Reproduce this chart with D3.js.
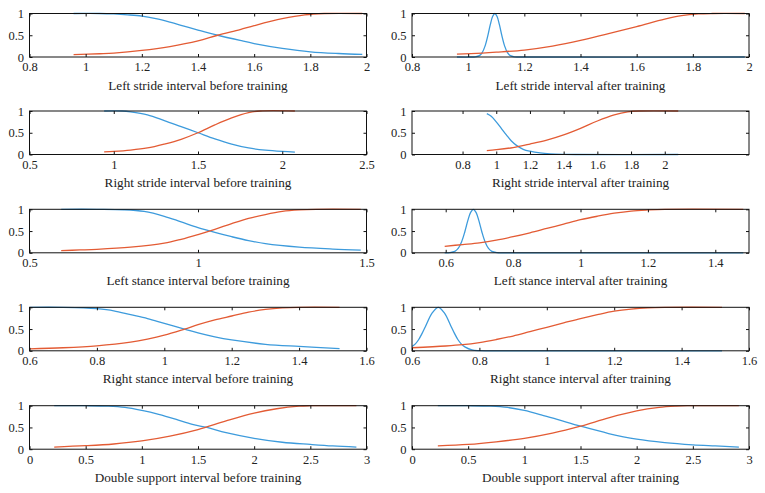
<!DOCTYPE html>
<html>
<head>
<meta charset="utf-8">
<script src="https://cdn.jsdelivr.net/npm/d3@7"></script>
<style>
  html, body { margin: 0; padding: 0; background: #fff; }
</style>
</head>
<body>
<svg id="chart" width="765" height="493"></svg>
<script>
// ---------- DATA ----------
const titles = [
  "Left stride interval before training", "Left stride interval after training",
  "Right stride interval before training", "Right stride interval after training",
  "Left stance interval before training", "Left stance interval after training",
  "Right stance interval before training", "Right stance interval after training",
  "Double support interval before training", "Double support interval after training"
];
const domains = [
  [0.8, 2], [0.8, 2],
  [0.5, 2.5], [0.5, 2.5],
  [0.5, 1.5], [0.5, 1.5],
  [0.6, 1.6], [0.6, 1.6],
  [0, 3], [0, 3]
];
const xTicks = [
  [0.8, 1, 1.2, 1.4, 1.6, 1.8, 2], [0.8, 1, 1.2, 1.4, 1.6, 1.8, 2],
  [0.5, 1, 1.5, 2, 2.5], [0.8, 1, 1.2, 1.4, 1.6, 1.8, 2],
  [0.5, 1, 1.5], [0.6, 0.8, 1, 1.2, 1.4],
  [0.6, 0.8, 1, 1.2, 1.4, 1.6], [0.6, 0.8, 1, 1.2, 1.4, 1.6],
  [0, 0.5, 1, 1.5, 2, 2.5, 3], [0, 0.5, 1, 1.5, 2, 2.5, 3]
];
const yTicks = [0, 0.5, 1];

// Left stride, before
const lsbBlue = [[0.957,1],[1.05,1],[1.1,0.99],[1.15,0.97],[1.2,0.94],[1.25,0.88],[1.3,0.8],[1.35,0.71],[1.4,0.62],[1.47,0.5],[1.55,0.38],[1.6,0.31],[1.7,0.2],[1.8,0.12],[1.9,0.08],[1.985,0.06]];
const lsbRed  = [[0.957,0.055],[1.05,0.075],[1.1,0.09],[1.2,0.15],[1.3,0.24],[1.4,0.37],[1.47,0.5],[1.55,0.63],[1.6,0.72],[1.7,0.88],[1.78,0.97],[1.85,1],[1.985,1]];
// Left stride, after
const lsaBlue = [[0.96,0],[1.01,0],[1.025,0.004],[1.04,0.032],[1.05,0.1],[1.06,0.25],[1.07,0.49],[1.079,0.75],[1.087,0.93],[1.095,1],[1.103,0.93],[1.111,0.75],[1.12,0.49],[1.13,0.25],[1.14,0.1],[1.15,0.032],[1.165,0.004],[1.18,0],[1.985,0]];
const lsaRed  = [[0.96,0.065],[1.05,0.09],[1.1,0.11],[1.2,0.16],[1.3,0.25],[1.4,0.38],[1.5,0.54],[1.6,0.7],[1.7,0.87],[1.76,0.95],[1.82,0.99],[1.87,1],[1.985,1]];
// Right stride, before
const rsbBlue = [[0.943,1],[1.05,1],[1.1,0.98],[1.2,0.91],[1.3,0.78],[1.4,0.64],[1.5,0.5],[1.6,0.36],[1.7,0.24],[1.8,0.15],[1.9,0.1],[2.0,0.07],[2.075,0.055]];
const rsbRed  = [[0.943,0.06],[1.0,0.07],[1.1,0.1],[1.2,0.15],[1.3,0.24],[1.4,0.35],[1.5,0.5],[1.6,0.68],[1.7,0.84],[1.8,0.96],[1.87,1],[2.075,1]];
// Right stride, after
const rsaBlue = [[0.944,0.94],[0.97,0.88],[1.0,0.75],[1.03,0.6],[1.06,0.45],[1.09,0.31],[1.12,0.21],[1.16,0.12],[1.2,0.075],[1.26,0.035],[1.32,0.015],[1.4,0.004],[1.47,0],[2.08,0]];
const rsaRed  = [[0.944,0.09],[1.0,0.11],[1.1,0.16],[1.2,0.24],[1.3,0.33],[1.4,0.45],[1.5,0.6],[1.6,0.77],[1.7,0.91],[1.78,0.98],[1.85,1],[2.08,1]];
// Left stance, before
const lstbBlue = [[0.594,1],[0.7,1],[0.78,0.99],[0.84,0.95],[0.9,0.84],[0.95,0.71],[1.0,0.58],[1.05,0.47],[1.1,0.37],[1.15,0.28],[1.2,0.21],[1.3,0.13],[1.4,0.085],[1.483,0.06]];
const lstbRed  = [[0.594,0.05],[0.65,0.065],[0.7,0.08],[0.8,0.13],[0.9,0.22],[0.95,0.31],[1.0,0.42],[1.05,0.54],[1.1,0.67],[1.15,0.79],[1.2,0.88],[1.25,0.95],[1.3,0.985],[1.35,1],[1.483,1]];
// Left stance, after
const lstaBlue = [[0.597,0],[0.612,0.004],[0.627,0.032],[0.637,0.1],[0.647,0.25],[0.657,0.49],[0.666,0.75],[0.674,0.93],[0.682,1],[0.69,0.93],[0.698,0.75],[0.707,0.49],[0.717,0.25],[0.727,0.1],[0.737,0.032],[0.752,0.004],[0.77,0],[1.483,0]];
const lstaRed  = [[0.597,0.15],[0.65,0.19],[0.7,0.23],[0.75,0.29],[0.8,0.37],[0.85,0.46],[0.9,0.56],[0.95,0.66],[1.0,0.76],[1.05,0.84],[1.1,0.91],[1.15,0.96],[1.2,0.985],[1.25,1],[1.483,1]];
// Right stance, before
const rstbBlue = [[0.6,1],[0.7,1],[0.76,0.99],[0.8,0.97],[0.85,0.92],[0.9,0.83],[0.95,0.74],[1.0,0.63],[1.06,0.5],[1.1,0.41],[1.15,0.32],[1.2,0.25],[1.3,0.15],[1.4,0.1],[1.52,0.05]];
const rstbRed  = [[0.6,0.045],[0.7,0.07],[0.8,0.115],[0.9,0.2],[0.95,0.27],[1.0,0.36],[1.06,0.5],[1.1,0.6],[1.15,0.71],[1.2,0.8],[1.25,0.89],[1.3,0.95],[1.35,0.985],[1.4,1],[1.52,1]];
// Right stance, after
const rstaBlue = [[0.6,0.1],[0.61,0.16],[0.62,0.26],[0.63,0.4],[0.64,0.56],[0.66,0.87],[0.678,1],[0.696,0.87],[0.716,0.56],[0.726,0.4],[0.736,0.26],[0.746,0.16],[0.758,0.085],[0.778,0.021],[0.8,0.004],[0.83,0],[1.52,0]];
const rstaRed  = [[0.6,0.07],[0.7,0.11],[0.75,0.14],[0.8,0.19],[0.85,0.26],[0.9,0.34],[0.95,0.44],[1.0,0.54],[1.05,0.64],[1.1,0.74],[1.15,0.83],[1.2,0.91],[1.25,0.96],[1.3,0.99],[1.35,1],[1.52,1]];
// Double support, before
const dsbBlue = [[0.22,1],[0.5,1],[0.7,0.99],[0.85,0.96],[1.0,0.89],[1.15,0.8],[1.3,0.69],[1.45,0.57],[1.58,0.5],[1.75,0.38],[2.0,0.25],[2.25,0.16],[2.5,0.11],[2.7,0.075],[2.91,0.05]];
const dsbRed  = [[0.22,0.05],[0.5,0.08],[0.75,0.12],[1.0,0.19],[1.25,0.3],[1.5,0.45],[1.75,0.65],[2.0,0.83],[2.2,0.93],[2.4,0.99],[2.5,1],[2.91,1]];
// Double support, after
const dsaBlue = [[0.23,1],[0.5,1],[0.7,0.99],[0.85,0.96],[1.0,0.89],[1.15,0.79],[1.3,0.68],[1.5,0.53],[1.75,0.36],[2.0,0.23],[2.25,0.15],[2.5,0.1],[2.7,0.075],[2.91,0.05]];
const dsaRed  = [[0.23,0.075],[0.5,0.11],[0.75,0.17],[1.0,0.25],[1.25,0.37],[1.5,0.53],[1.75,0.72],[2.0,0.88],[2.2,0.96],[2.35,0.99],[2.45,1],[2.91,1]];

const blueSeries = [lsbBlue, lsaBlue, rsbBlue, rsaBlue, lstbBlue, lstaBlue, rstbBlue, rstaBlue, dsbBlue, dsaBlue];
const redSeries  = [lsbRed, lsaRed, rsbRed, rsaRed, lstbRed, lstaRed, rstbRed, rstaRed, dsbRed, dsaRed];

// ---------- LAYOUT ----------
const BLUE = "#3d9bdc", RED = "#e35b34";
const FONT = "'Liberation Serif', 'Times New Roman', 'DejaVu Serif', serif";
const colLeft = [29.5, 412];
const colRight = [366.5, 749];
const rowTop = [13.5, 111, 209.3, 307.3, 405.7];
const panelH = 43.5;
const tickFont = 12.5;
const titleFont = 13.2;

const svg = d3.select("#chart");

titles.forEach((title, i) => {
  const col = i % 2, row = Math.floor(i / 2);
  const x0 = colLeft[col], x1 = colRight[col];
  const y0 = rowTop[row], y1 = y0 + panelH;
  const x = d3.scaleLinear().domain(domains[i]).range([x0, x1]);
  const y = d3.scaleLinear().domain([0, 1]).range([y1, y0]);
  const g = svg.append("g");

  const clipId = "clip" + i;
  svg.append("clipPath").attr("id", clipId)
    .append("rect").attr("x", x0).attr("y", y0 - 2).attr("width", x1 - x0).attr("height", panelH + 4);

  const line = d3.line().x(d => x(d[0])).y(d => y(d[1])).curve(d3.curveCatmullRom.alpha(0.5));
  const curves = g.append("g").attr("clip-path", `url(#${clipId})`);
  curves.append("path").datum(blueSeries[i]).attr("d", line)
    .attr("fill", "none").attr("stroke", BLUE).attr("stroke-width", 1.3);
  curves.append("path").datum(redSeries[i]).attr("d", line)
    .attr("fill", "none").attr("stroke", RED).attr("stroke-width", 1.3);

  const fmt = d => String(d);
  const ax = (sel) => {
    sel.attr("font-family", null).attr("font-size", null);
    sel.select(".domain").remove();
    sel.selectAll("line").attr("stroke", "#111");
    sel.selectAll("text").style("font-family", FONT).style("font-size", tickFont + "px").attr("fill", "#222");
  };

  g.append("g").attr("transform", `translate(0,${y1})`)
    .call(d3.axisBottom(x).tickValues(xTicks[i]).tickFormat(fmt).tickSizeInner(-3).tickSizeOuter(0).tickPadding(5.5))
    .call(ax);
  g.append("g").attr("transform", `translate(0,${y0})`)
    .call(d3.axisTop(x).tickValues(xTicks[i]).tickFormat("").tickSizeInner(-3).tickSizeOuter(0))
    .call(ax);
  g.append("g").attr("transform", `translate(${x0},0)`)
    .call(d3.axisLeft(y).tickValues(yTicks).tickFormat(fmt).tickSizeInner(-3).tickSizeOuter(0).tickPadding(5.5))
    .call(ax);
  g.append("g").attr("transform", `translate(${x1},0)`)
    .call(d3.axisRight(y).tickValues(yTicks).tickFormat("").tickSizeInner(-3).tickSizeOuter(0))
    .call(ax);

  g.append("rect").attr("x", x0).attr("y", y0).attr("width", x1 - x0).attr("height", panelH)
    .attr("fill", "none").attr("stroke", "#111").attr("stroke-width", 1);

  g.append("text").attr("x", (x0 + x1) / 2).attr("y", y1 + 32.5)
    .attr("text-anchor", "middle")
    .style("font-family", FONT).style("font-size", titleFont + "px").attr("fill", "#222")
    .text(title);
});
</script>
</body>
</html>
